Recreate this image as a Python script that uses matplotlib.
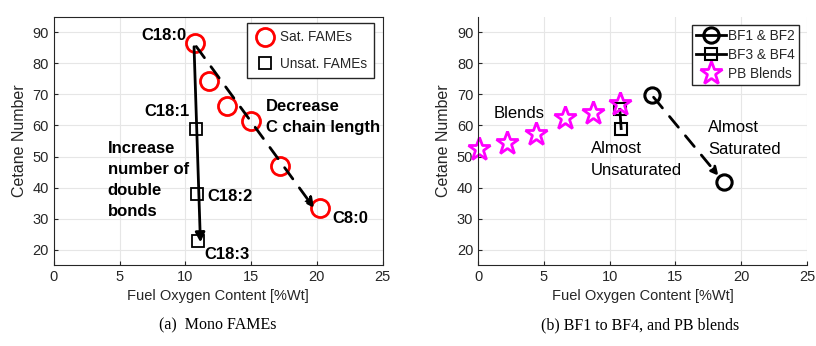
import matplotlib
matplotlib.use('Agg')
import matplotlib.pyplot as plt
from matplotlib.lines import Line2D

plt.rcParams['font.family'] = ['Liberation Sans', 'DejaVu Sans']

# (a) mono FAMEs
sat_x = [10.7, 11.8, 13.2, 15.0, 17.2, 20.2]
sat_cn = [86.7, 74.4, 66.2, 61.5, 47.0, 33.5]
unsat_x = [10.8, 10.87, 10.95]
unsat_cn = [59.0, 37.8, 22.6]

# (b) BF1..BF4 and PB blends
bf12_x = [13.2, 18.7]
bf12_cn = [69.8, 41.8]
bf34_x = [10.77, 10.87]
bf34_cn = [65.2, 59.0]
pb_x = [0.1, 2.2, 4.4, 6.6, 8.7, 10.8]
pb_cn = [52.4, 54.2, 57.3, 62.3, 63.9, 67.0]

xticks = [0, 5, 10, 15, 20, 25]
yticks = [20, 30, 40, 50, 60, 70, 80, 90]
tick_col = '#262626'

fig = plt.figure(figsize=(8.16, 3.46), dpi=100)
ax1 = fig.add_axes([0.066, 0.234, 0.403, 0.717])
ax2 = fig.add_axes([0.586, 0.234, 0.403, 0.717])

for ax in (ax1, ax2):
    ax.set_xlim(0, 25)
    ax.set_ylim(15, 95)
    ax.set_xticks(xticks)
    ax.set_yticks(yticks)
    ax.grid(True, color='#e6e6e6', lw=0.8)
    ax.set_axisbelow(True)
    ax.tick_params(labelsize=10.5, colors=tick_col, length=3, direction='in')
    for s in ax.spines.values():
        s.set_color(tick_col)
    ax.set_xlabel('Fuel Oxygen Content [%Wt]', fontsize=10.5, color=tick_col)
    ax.set_ylabel('Cetane Number', fontsize=11.5, color=tick_col)

ax2.spines['top'].set_visible(False)
ax2.spines['right'].set_visible(False)

# --- left panel ---
ax1.annotate('', xy=(sat_x[-1] - 0.3, sat_cn[-1] - 0.8), xytext=(sat_x[0], sat_cn[0] - 0.5),
             arrowprops=dict(arrowstyle='-|>', ls=(0, (5, 4)), lw=2, color='black',
                             mutation_scale=14))
ax1.annotate('', xy=(11.15, 21.4), xytext=(10.65, 86.3),
             arrowprops=dict(arrowstyle='-|>', lw=2, color='black', mutation_scale=14))
ax1.plot(sat_x, sat_cn, 'o', ms=13, mfc='none', mec='red', mew=2, label='Sat. FAMEs')
ax1.plot(unsat_x, unsat_cn, 's', ms=9, mfc='none', mec='black', mew=1.3, label='Unsat. FAMEs')

bold = dict(fontsize=12, fontweight='bold', color='black')
ax1.text(10.1, 89, 'C18:0', ha='right', va='center', **bold)
ax1.text(10.3, 64.4, 'C18:1', ha='right', va='center', **bold)
ax1.text(11.7, 37, 'C18:2', ha='left', va='center', **bold)
ax1.text(11.45, 18.5, 'C18:3', ha='left', va='center', **bold)
ax1.text(21.2, 30, 'C8:0', ha='left', va='center', **bold)
ax1.text(16.1, 62.6, 'Decrease\nC chain length', ha='left', va='center',
         linespacing=1.5, **bold)
ax1.text(4.1, 42.4, 'Increase\nnumber of\ndouble\nbonds', ha='left', va='center',
         linespacing=1.5, **bold)

leg1 = ax1.legend(loc='upper right', fontsize=9.8, framealpha=1, edgecolor=tick_col,
                  fancybox=False, borderpad=0.55, labelspacing=0.9, handletextpad=0.3,
                  handlelength=1.6, borderaxespad=0, bbox_to_anchor=(0.975, 0.976))
for t in leg1.get_texts():
    t.set_color(tick_col)

# --- right panel ---
ax2.annotate('', xy=(bf12_x[1] - 0.3, bf12_cn[1] + 1.3), xytext=(bf12_x[0], bf12_cn[0]),
             arrowprops=dict(arrowstyle='-|>', ls=(0, (5, 4)), lw=2, color='black',
                             mutation_scale=12))
ax2.plot(bf34_x, bf34_cn, '-', color='black', lw=2)
ax2.plot(bf12_x, bf12_cn, 'o', ms=11, mfc='none', mec='black', mew=2.2)
ax2.plot(bf34_x, bf34_cn, 's', ms=9, mfc='none', mec='black', mew=1.5)
ax2.plot(pb_x, pb_cn, '*', ms=17, mfc='none', mec='magenta', mew=2, clip_on=False)

normal = dict(fontsize=12, color='black')
ax2.text(1.14, 63.9, 'Blends', ha='left', va='center', **normal)
ax2.text(8.54, 49, 'Almost\nUnsaturated', ha='left', va='center', linespacing=1.55, **normal)
ax2.text(17.5, 55.8, 'Almost\nSaturated', ha='left', va='center', linespacing=1.55, **normal)

handles = [
    Line2D([], [], color='black', lw=2, marker='o', ms=11, mfc='none', mew=2.2),
    Line2D([], [], color='black', lw=2, marker='s', ms=9, mfc='none', mew=1.5),
    Line2D([], [], ls='none', marker='*', ms=17, mfc='none', mec='magenta', mew=2),
]
leg2 = ax2.legend(handles, ['BF1 & BF2', 'BF3 & BF4', 'PB Blends'], loc='upper right',
                  fontsize=9.8, framealpha=1, edgecolor=tick_col, fancybox=False,
                  borderpad=0.3, labelspacing=0.35, handlelength=2.2, handletextpad=0.15,
                  borderaxespad=0, bbox_to_anchor=(0.975, 0.968))
for t in leg2.get_texts():
    t.set_color(tick_col)

cap = dict(fontsize=11.5, family='Liberation Serif', ha='center', va='center')
fig.text(0.267, 0.06, '(a)  Mono FAMEs', **cap)
fig.text(0.785, 0.06, '(b) BF1 to BF4, and PB blends', **cap)

fig.savefig('out.png', dpi=100)
